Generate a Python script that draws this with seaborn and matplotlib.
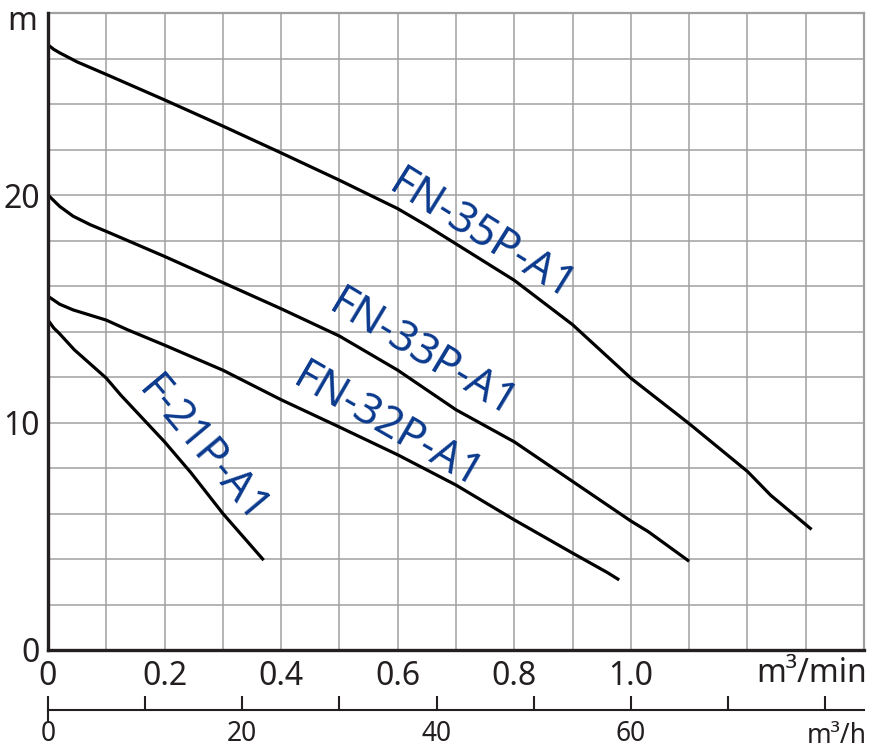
import numpy as np
import pandas as pd
import matplotlib
matplotlib.use('Agg')
import matplotlib.pyplot as plt
import seaborn as sns

# pump curves: flow (m3/min) vs head (m)
models = ['FN-35P-A1', 'FN-33P-A1', 'FN-32P-A1', 'F-21P-A1']

q35 = [0, 0.01, 0.02, 0.05, 0.1, 0.2, 0.3, 0.4, 0.5, 0.6, 0.65, 0.7, 0.8, 0.9, 1.0, 1.1, 1.2, 1.24, 1.31]
h35 = [26.6, 26.4, 26.25, 25.85, 25.3, 24.18, 23.03, 21.85, 20.65, 19.4, 18.65, 17.85, 16.25, 14.3, 11.95, 9.95, 7.85, 6.8, 5.3]

q33 = [0, 0.02, 0.043, 0.072, 0.1, 0.2, 0.3, 0.4, 0.5, 0.6, 0.7, 0.8, 0.9, 1.0, 1.03, 1.1]
h33 = [20.0, 19.5, 19.07, 18.7, 18.4, 17.3, 16.15, 15.0, 13.8, 12.3, 10.56, 9.15, 7.41, 5.67, 5.2, 3.9]

q32 = [0, 0.02, 0.043, 0.1, 0.137, 0.2, 0.3, 0.4, 0.5, 0.6, 0.7, 0.8, 0.9, 0.96, 0.98]
h32 = [15.55, 15.2, 14.95, 14.5, 14.07, 13.4, 12.3, 11.0, 9.8, 8.58, 7.25, 5.72, 4.26, 3.4, 3.08]

q21 = [0, 0.01, 0.02, 0.045, 0.1, 0.125, 0.2, 0.245, 0.3, 0.37]
h21 = [14.5, 14.15, 13.9, 13.2, 11.95, 11.2, 9.15, 7.8, 6.0, 3.95]

x_ticklabels = ['0', '', '0.2', '', '0.4', '', '0.6', '', '0.8', '', '1.0', '', '', '', '']
y_ticklabels = ['0', '', '', '', '', '10', '', '', '', '', '20', '', '', '', '']
h_ticklabels = ['0', '', '20', '', '40', '', '60', '', '']

frames = []
for name, q, h in zip(models, [q35, q33, q32, q21], [h35, h33, h32, h21]):
    frames.append(pd.DataFrame({'model': name, 'flow': q, 'head': h}))
df = pd.concat(frames, ignore_index=True)

sns.set_style('white')
plt.rcParams['font.family'] = ['Noto Sans', 'DejaVu Sans']

W, H = 876, 756
fig = plt.figure(figsize=(W / 100, H / 100), dpi=100)
ax = fig.add_axes([48 / W, 1 - 650 / H, (864 - 48) / W, (650 - 13) / H])

grid_c = '#a0a0a0'
dark = '#231f20'
blue = '#0b3a8e'

sns.lineplot(data=df, x='flow', y='head', units='model', estimator=None,
             sort=False, color='black', lw=2.3, ax=ax, legend=False, zorder=3,
             solid_joinstyle='round', solid_capstyle='butt')

ax.set_xlim(0, 1.4)
ax.set_ylim(0, 28)
ax.set_xticks(np.arange(0, 1.401, 0.1))
ax.set_xticklabels(x_ticklabels)
ax.set_yticks(np.arange(0, 28.01, 2))
ax.set_yticklabels(y_ticklabels)
ax.grid(True, color=grid_c, lw=1.1)
ax.set_axisbelow(True)
ax.tick_params(length=0, labelsize=23, colors=dark)
ax.tick_params(axis='x', pad=7)
ax.tick_params(axis='y', pad=6)
ax.set_xlabel('')
ax.set_ylabel('')

for side in ['top', 'right']:
    ax.spines[side].set_color(grid_c)
    ax.spines[side].set_linewidth(1.6)
for side in ['left', 'bottom']:
    ax.spines[side].set_color(dark)
    ax.spines[side].set_linewidth(2.4)
    ax.spines[side].set_zorder(4)

# second flow scale in m3/h
sec = ax.secondary_xaxis(-0.094, functions=(lambda x: x * 60, lambda x: x / 60))
sec.set_xticks(np.arange(0, 81, 10))
sec.set_xticklabels(h_ticklabels)
sec.xaxis.remove_overlapping_locs = False
sec.set_xticks([0], minor=True)
sec.tick_params(direction='in', length=10, width=1.5, colors=dark, labelsize=19, pad=7)
sec.tick_params(which='minor', direction='out', length=8, width=1.5, color=dark)
sec.spines['bottom'].set_color(dark)
sec.spines['bottom'].set_linewidth(1.5)

# curve labels
labels = [
    ('FN-35P-A1', 0.745, 18.2, -32),
    ('FN-33P-A1', 0.643, 12.98, -31),
    ('FN-32P-A1', 0.582, 9.8, -30),
    ('F-21P-A1', 0.264, 8.75, -50),
]
for txt, x, y, rot in labels:
    ax.text(x, y, txt, color=blue, fontsize=31, rotation=rot, rotation_mode='anchor',
            ha='center', va='center', zorder=5)

fig.text(22 / W, 1 - 22 / H, 'm', fontsize=23, color=dark, ha='center', va='center')
fig.text(867 / W, 1 - 673 / H, 'm³/min', fontsize=23, color=dark, ha='right', va='center')
fig.text(867 / W, 1 - 736 / H, 'm³/h', fontsize=19, color=dark, ha='right', va='center')

fig.savefig('out.png', dpi=100)
